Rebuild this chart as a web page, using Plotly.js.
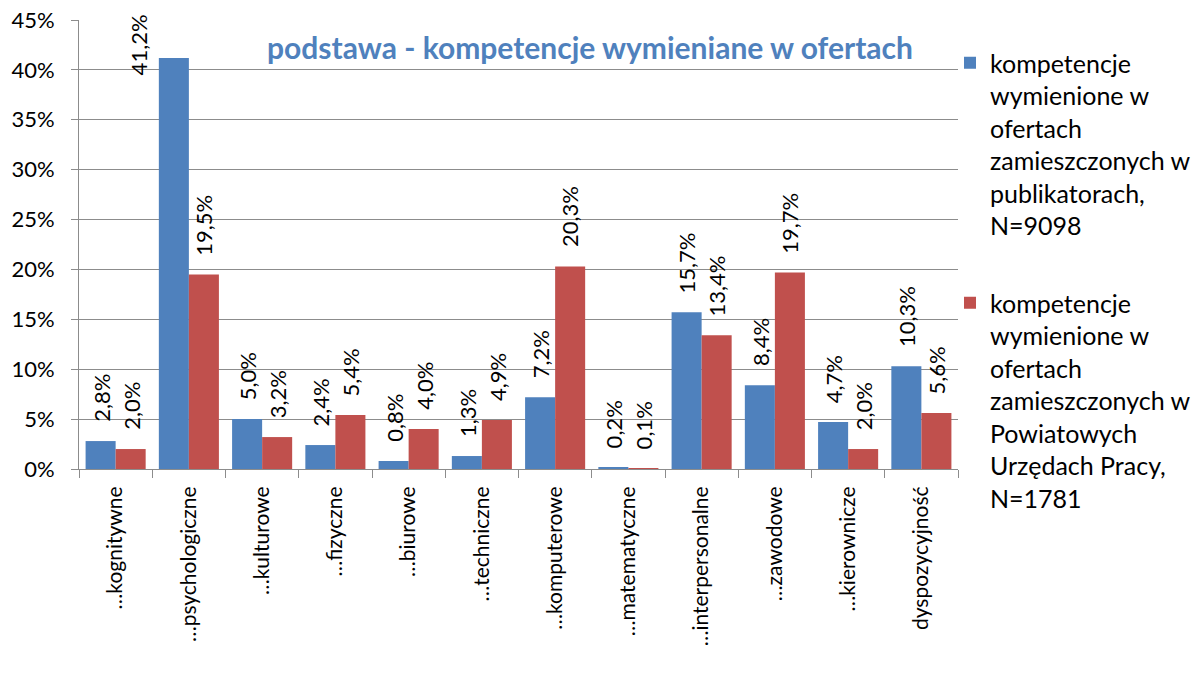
<!DOCTYPE html>
<html>
<head>
<meta charset="utf-8">
<script src="https://cdn.plot.ly/plotly-3.0.1.min.js"></script>
<style>html,body{margin:0;padding:0;background:#fff;}#chart{width:1196px;height:675px;}</style>
</head>
<body>
<div id="chart"></div>
<script>
const categories = ["…kognitywne","…psychologiczne","…kulturowe","…fizyczne","…biurowe","…techniczne","…komputerowe","…matematyczne","…interpersonalne","…zawodowe","…kierownicze","dyspozycyjność"];
const publikatory = [2.8, 41.2, 5.0, 2.4, 0.8, 1.3, 7.2, 0.2, 15.7, 8.4, 4.7, 10.3];
const pup = [2.0, 19.5, 3.2, 5.4, 4.0, 4.9, 20.3, 0.1, 13.4, 19.7, 2.0, 5.6];
const seriesNames = [
  "kompetencje<br>wymienione w<br>ofertach<br>zamieszczonych w<br>publikatorach,<br>N=9098",
  "kompetencje<br>wymienione w<br>ofertach<br>zamieszczonych w<br>Powiatowych<br>Urzędach Pracy,<br>N=1781"
];
const titleText = "podstawa - kompetencje wymieniane w ofertach";
const yTicks = [0,5,10,15,20,25,30,35,40,45];

const FONT = "Lato, 'Open Sans', sans-serif";
const BLUE = "#4F81BD", RED = "#C0504D", GRID = "#8c8c8c";

const fmt = v => v.toFixed(1).replace('.', ',') + '%';

const traces = [
  {type:'bar', x:categories, y:publikatory, name:seriesNames[0], marker:{color:BLUE}, legendgroup:'a', hoverinfo:'skip'},
  {type:'bar', x:categories, y:pup, name:seriesNames[1], marker:{color:RED}, legendgroup:'b', hoverinfo:'skip'}
];

const annotations = [];
[publikatory, pup].forEach((arr, si) => {
  arr.forEach((v, i) => {
    const shift = si === 0 ? -15 : 15;
    if (v > 38) {
      annotations.push({x:categories[i], y:45, xref:'x', yref:'y', text:fmt(v), showarrow:false,
        textangle:-90, xanchor:'center', yanchor:'top', xshift:shift-35, yshift:8,
        font:{family:FONT, size:22, color:'#000'}});
    } else {
      annotations.push({x:categories[i], y:v, xref:'x', yref:'y', text:fmt(v), showarrow:false,
        textangle:-90, xanchor:'center', yanchor:'bottom', xshift:shift, yshift:17,
        font:{family:FONT, size:22, color:'#000'}});
    }
  });
});

const layout = {
  width:1196, height:675,
  margin:{l:79, r:238, t:20, b:206, autoexpand:false},
  paper_bgcolor:'#fff', plot_bgcolor:'#fff',
  barmode:'group', bargap:0.18, bargroupgap:0,
  title:{text:titleText, font:{family:FONT, size:30, color:BLUE, weight:'bold'},
    xref:'container', yref:'container', x:590/1196, y:1-48/675, xanchor:'center', yanchor:'middle'},
  font:{family:FONT, size:22, color:'#000'},
  xaxis:{type:'category', tickangle:-90, tickson:'boundaries', ticks:'outside', ticklen:8, tickcolor:GRID,
    showline:true, linecolor:GRID, linewidth:1, showgrid:false, tickfont:{family:FONT, size:21, color:'#000'},
    ticklabelstandoff:8, fixedrange:true},
  yaxis:{range:[0,45], tickvals:yTicks, ticktext:yTicks.map(t=>t+'%'), ticks:'outside', ticklen:7, tickcolor:GRID,
    showline:true, linecolor:GRID, linewidth:1, showgrid:true, gridcolor:GRID, gridwidth:1, zeroline:false,
    tickfont:{family:FONT, size:22, color:'#000'}, ticklabelstandoff:12, fixedrange:true},
  legend:{xref:'container', yref:'container', x:950/1196, xanchor:'left', y:1-40/675, yanchor:'top', valign:'top',
    traceorder:'grouped', tracegroupgap:42, maxheight:640,
    font:{family:FONT, size:25, color:'#000'}, bgcolor:'rgba(0,0,0,0)'},
  annotations:annotations,
  showlegend:true
};

Plotly.newPlot('chart', traces, layout, {displayModeBar:false, staticPlot:true});
</script>
</body>
</html>
